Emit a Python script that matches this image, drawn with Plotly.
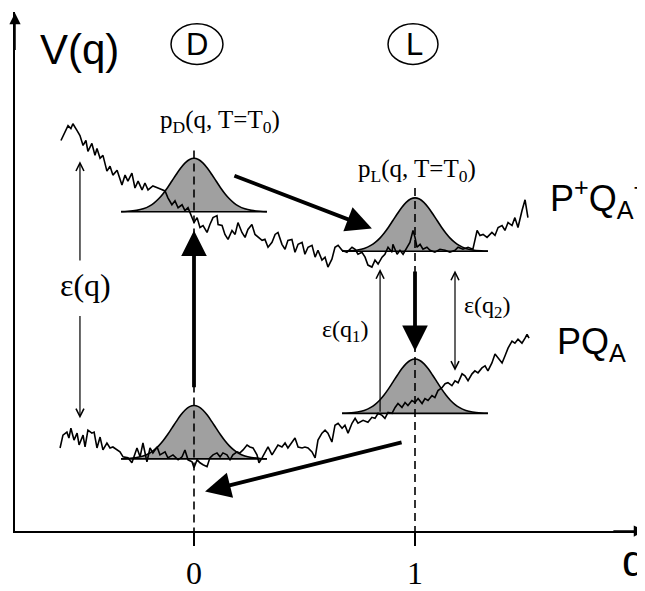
import plotly.graph_objects as go

# ---------------- data (q in reaction-coordinate units, V in arbitrary energy units) ----------------
UPPER_CURVE = [  # P+QA- potential surface (noisy)
    (-0.602, 3.95), (-0.584, 4.04), (-0.570, 4.10), (-0.557, 4.07), (-0.548, 4.12), (-0.529, 4.05),
    (-0.516, 4.00), (-0.502, 3.90), (-0.489, 3.95), (-0.480, 3.84), (-0.462, 3.92), (-0.448, 3.80),
    (-0.439, 3.87), (-0.425, 3.77), (-0.412, 3.80), (-0.394, 3.64), (-0.380, 3.69), (-0.367, 3.60),
    (-0.348, 3.65), (-0.326, 3.50), (-0.312, 3.60), (-0.299, 3.54), (-0.281, 3.62), (-0.267, 3.47),
    (-0.253, 3.54), (-0.235, 3.45), (-0.222, 3.52), (-0.208, 3.45), (-0.186, 3.49), (-0.163, 3.47),
    (-0.131, 3.44), (-0.118, 3.37), (-0.100, 3.30), (-0.086, 3.34), (-0.072, 3.27), (-0.054, 3.30),
    (-0.041, 3.24), (-0.027, 3.27), (-0.009, 3.17), (0.000, 3.12), (0.014, 3.17), (0.027, 3.07),
    (0.041, 3.09), (0.059, 3.02), (0.072, 3.10), (0.086, 3.17), (0.104, 3.19), (0.109, 3.10),
    (0.127, 3.09), (0.140, 3.00), (0.154, 2.95), (0.172, 3.04), (0.186, 3.00), (0.199, 3.12),
    (0.217, 3.02), (0.231, 2.97), (0.244, 3.05), (0.262, 3.10), (0.276, 3.00), (0.290, 2.97),
    (0.308, 2.94), (0.321, 2.95), (0.335, 2.87), (0.353, 2.92), (0.367, 3.00), (0.380, 3.02),
    (0.398, 2.90), (0.412, 2.85), (0.425, 2.94), (0.443, 2.95), (0.457, 2.82), (0.471, 2.90),
    (0.489, 2.92), (0.502, 2.80), (0.516, 2.87), (0.534, 2.89), (0.548, 2.77), (0.561, 2.84),
    (0.579, 2.74), (0.593, 2.77), (0.606, 2.67), (0.624, 2.75), (0.638, 2.87), (0.652, 2.89),
    (0.670, 2.84), (0.692, 2.82), (0.715, 2.87), (0.729, 2.85), (0.742, 2.80), (0.760, 2.82),
    (0.774, 2.77), (0.787, 2.69), (0.805, 2.67), (0.819, 2.74), (0.833, 2.70), (0.851, 2.77),
    (0.864, 2.80), (0.878, 2.87), (0.896, 2.82), (0.900, 2.90), (0.919, 2.80), (0.932, 2.84),
    (0.946, 2.80), (0.964, 2.87), (0.977, 2.92), (0.991, 3.04), (1.000, 2.97), (1.009, 2.87),
    (1.023, 2.90), (1.036, 2.85), (1.054, 2.87), (1.068, 2.84), (1.090, 2.82), (1.113, 2.85),
    (1.136, 2.84), (1.158, 2.82), (1.181, 2.84), (1.195, 2.87), (1.217, 2.85), (1.240, 2.87),
    (1.262, 2.85), (1.271, 2.94), (1.281, 3.04), (1.294, 2.99), (1.308, 3.00), (1.326, 2.97),
    (1.348, 3.02), (1.362, 2.99), (1.376, 3.07), (1.394, 3.09), (1.407, 3.04), (1.421, 3.12),
    (1.439, 3.09), (1.452, 3.17), (1.466, 3.07), (1.484, 3.24), (1.498, 3.35), (1.511, 3.17),
]

LOWER_CURVE = [  # PQA potential surface (noisy)
    (-0.606, 0.84), (-0.593, 0.97), (-0.575, 1.00), (-0.566, 0.94), (-0.557, 1.04), (-0.543, 0.92),
    (-0.529, 0.99), (-0.520, 0.87), (-0.502, 0.97), (-0.493, 0.85), (-0.480, 1.02), (-0.462, 0.99),
    (-0.452, 1.00), (-0.439, 0.84), (-0.425, 0.95), (-0.412, 0.82), (-0.394, 0.89), (-0.380, 0.84),
    (-0.367, 0.85), (-0.348, 0.82), (-0.335, 0.80), (-0.321, 0.75), (-0.299, 0.74), (-0.281, 0.69),
    (-0.267, 0.77), (-0.258, 0.84), (-0.244, 0.75), (-0.231, 0.89), (-0.213, 0.70), (-0.199, 0.84),
    (-0.186, 0.79), (-0.167, 0.85), (-0.154, 0.77), (-0.131, 0.80), (-0.118, 0.74), (-0.095, 0.77),
    (-0.072, 0.72), (-0.054, 0.75), (-0.041, 0.82), (-0.027, 0.72), (-0.009, 0.70), (0.000, 0.64),
    (0.014, 0.72), (0.027, 0.69), (0.041, 0.67), (0.059, 0.65), (0.072, 0.74), (0.086, 0.77),
    (0.104, 0.79), (0.118, 0.75), (0.131, 0.79), (0.149, 0.77), (0.163, 0.72), (0.176, 0.77),
    (0.195, 0.80), (0.208, 0.79), (0.222, 0.82), (0.240, 0.87), (0.253, 0.85), (0.267, 0.84),
    (0.285, 0.77), (0.294, 0.69), (0.308, 0.74), (0.321, 0.80), (0.335, 0.85), (0.353, 0.77),
    (0.367, 0.82), (0.380, 0.87), (0.398, 0.85), (0.412, 0.89), (0.425, 0.84), (0.443, 0.90),
    (0.457, 0.94), (0.471, 0.85), (0.489, 0.84), (0.502, 0.85), (0.516, 0.84), (0.534, 0.80),
    (0.548, 0.74), (0.561, 0.92), (0.579, 0.99), (0.593, 1.02), (0.606, 0.99), (0.624, 0.90),
    (0.638, 1.07), (0.652, 1.09), (0.670, 1.04), (0.683, 1.07), (0.697, 0.99), (0.715, 1.09),
    (0.729, 1.14), (0.742, 1.09), (0.765, 1.12), (0.787, 1.10), (0.805, 1.15), (0.819, 1.14),
    (0.833, 1.19), (0.851, 1.17), (0.864, 1.14), (0.878, 1.20), (0.896, 1.19), (0.910, 1.25),
    (0.923, 1.29), (0.941, 1.25), (0.955, 1.30), (0.968, 1.27), (0.986, 1.32), (1.000, 1.30),
    (1.014, 1.34), (1.032, 1.29), (1.045, 1.34), (1.059, 1.32), (1.077, 1.37), (1.090, 1.35),
    (1.104, 1.42), (1.122, 1.45), (1.136, 1.49), (1.149, 1.50), (1.167, 1.47), (1.181, 1.52),
    (1.195, 1.50), (1.213, 1.59), (1.226, 1.57), (1.240, 1.52), (1.258, 1.59), (1.271, 1.62),
    (1.285, 1.60), (1.303, 1.65), (1.317, 1.67), (1.330, 1.62), (1.348, 1.70), (1.362, 1.79),
    (1.376, 1.75), (1.394, 1.70), (1.407, 1.77), (1.421, 1.85), (1.439, 1.92), (1.452, 1.90),
    (1.466, 1.94), (1.484, 1.90), (1.498, 1.95), (1.507, 1.99), (1.516, 1.95),
]

# population distributions p(q) drawn as bells: shared profile, per-bell centre/baseline/height
BELL_OFFSETS = [-0.33, -0.30, -0.26, -0.23, -0.20, -0.18, -0.16, -0.14, -0.12, -0.10, -0.08, -0.06,
                -0.04, -0.02, 0.00, 0.02, 0.04, 0.06, 0.08, 0.10, 0.12, 0.14, 0.16, 0.18, 0.20,
                0.23, 0.26, 0.30, 0.33]
BELL_PROFILE = [0.002, 0.007, 0.024, 0.053, 0.109, 0.166, 0.242, 0.338, 0.450, 0.575, 0.701, 0.819,
                0.915, 0.978, 1.000, 0.978, 0.915, 0.819, 0.701, 0.575, 0.450, 0.338, 0.242, 0.166,
                0.109, 0.053, 0.024, 0.007, 0.002]
BELL_CENTERS = [0.0, 0.0, 1.0, 1.0]          # D upper, D lower, L upper, L lower
BELL_BASELINES = [3.23, 0.73, 2.83, 1.19]
BELL_HEIGHTS = [0.54, 0.54, 0.54, 0.55]

STATE_Q = [0, 1]
TICK_LABELS = ["0", "1"]
STATE_NAMES = ["D", "L"]
STATE_LABEL_Q = [0.012, 0.998]
STATE_OVAL_Q = [(-0.104, 0.131), (0.878, 1.104)]
STATE_OVAL_V = (4.72, 5.13)
DASH_TOPS = [3.85, 3.47]

# schematic arrows: (q_tail, V_tail, q_head, V_head)
BIG_ARROWS = [
    (0.000, 1.44, 0.000, 3.04),   # excitation at D
    (0.176, 3.60, 0.805, 3.06),   # relaxation D -> L (upper)
    (1.000, 2.64, 1.000, 1.82),   # recombination at L
    (0.946, 0.90, 0.050, 0.40),   # relaxation L -> D (lower)
]
THIN_ARROWS = [  # (q, V_from, V_to, double-headed)
    (-0.516, 2.72, 3.74, False),
    (-0.516, 2.19, 1.14, False),
    (0.842, 1.19, 2.65, False),
    (1.181, 2.65, 1.62, True),
]

X_RANGE = [-0.80995, 2.04072]
Y_RANGE = [0.0, 5.25]

SERIF = "Liberation Serif, Times New Roman, serif"
SANS = "Liberation Sans, Arial, sans-serif"
GRAY = "#a0a0a0"

fig = go.Figure()

# bells
for c, b, h in zip(BELL_CENTERS, BELL_BASELINES, BELL_HEIGHTS):
    fig.add_trace(go.Scatter(
        x=[c + o for o in BELL_OFFSETS], y=[b + h * p for p in BELL_PROFILE],
        mode="lines", fill="toself", fillcolor=GRAY,
        line=dict(color="black", width=1.6, shape="spline"), hoverinfo="skip"))
    fig.add_trace(go.Scatter(
        x=[c + BELL_OFFSETS[0], c + BELL_OFFSETS[-1]], y=[b, b],
        mode="lines", line=dict(color="black", width=1.6), hoverinfo="skip"))

# potential curves
for curve in (UPPER_CURVE, LOWER_CURVE):
    fig.add_trace(go.Scatter(
        x=[p[0] for p in curve], y=[p[1] for p in curve],
        mode="lines", line=dict(color="black", width=1.6), hoverinfo="skip"))

# dashed guide lines at the two states
for q, top in zip(STATE_Q, DASH_TOPS):
    fig.add_trace(go.Scatter(
        x=[q, q], y=[top, 0], mode="lines",
        line=dict(color="black", width=1.6, dash="8px,5px"), hoverinfo="skip"))

annotations = []

# axis arrow heads
annotations.append(dict(x=X_RANGE[1], y=0, ax=X_RANGE[1] - 0.15, ay=0, xref="x", yref="y",
                        axref="x", ayref="y", text="", showarrow=True, arrowhead=2,
                        arrowwidth=1.5, arrowsize=1.5, arrowcolor="black", standoff=0))
annotations.append(dict(x=X_RANGE[0], y=Y_RANGE[1] - 0.01, ax=X_RANGE[0], ay=Y_RANGE[1] - 0.4,
                        xref="x", yref="y", axref="x", ayref="y", text="", showarrow=True,
                        arrowhead=2, arrowwidth=1.5, arrowsize=1.5, arrowcolor="black", standoff=0))

for qt, vt, qh, vh in BIG_ARROWS:
    annotations.append(dict(x=qh, y=vh, ax=qt, ay=vt, xref="x", yref="y", axref="x", ayref="y",
                            text="", showarrow=True, arrowhead=2, arrowwidth=3.8, arrowsize=1.35,
                            arrowcolor="black", standoff=0))

for q, v0, v1, both in THIN_ARROWS:
    a = dict(x=q, y=v1, ax=q, ay=v0, xref="x", yref="y", axref="x", ayref="y", text="",
             showarrow=True, arrowhead=5, arrowwidth=1.2, arrowsize=1.3, arrowcolor="black",
             standoff=0)
    if both:
        a.update(arrowside="end+start", startarrowhead=5, startarrowsize=1.3, startstandoff=0)
    annotations.append(a)

# texts
annotations += [
    dict(x=-0.516, y=4.87, text="V(q)", font=dict(family=SANS, size=42, color="black")),
    dict(x=0.118, y=4.14, text="p<sub>D</sub>(q, T=T<sub>0</sub>)",
         font=dict(family=SERIF, size=25, color="black")),
    dict(x=1.009, y=3.65, text="p<sub>L</sub>(q, T=T<sub>0</sub>)",
         font=dict(family=SERIF, size=25, color="black")),
    dict(x=-0.493, y=2.49, text="ε(q)", font=dict(family=SERIF, size=32, color="black")),
    dict(x=0.683, y=2.02, text="ε(q<sub>1</sub>)", font=dict(family=SERIF, size=24, color="black")),
    dict(x=1.326, y=2.27, text="ε(q<sub>2</sub>)", font=dict(family=SERIF, size=24, color="black")),
    dict(x=1.602, y=3.36, text="P<sup>+</sup>Q<sub>A</sub><sup>−</sup>", xanchor="left",
         font=dict(family=SANS, size=36, color="black")),
    dict(x=1.633, y=1.89, text="PQ<sub>A</sub>", xanchor="left",
         font=dict(family=SANS, size=36, color="black")),
]
for q, name in zip(STATE_LABEL_Q, STATE_NAMES):
    annotations.append(dict(x=q, y=4.92, text=name,
                            font=dict(family=SANS, size=31, color="black")))
for a in annotations:
    if "showarrow" not in a:
        a.update(xref="x", yref="y", showarrow=False)
        a.setdefault("xanchor", "center")
        a.setdefault("yanchor", "middle")

annotations.append(dict(x=0.960, y=-0.057, xref="paper", yref="paper", text="q", showarrow=False,
                        xanchor="left", yanchor="middle",
                        font=dict(family=SANS, size=44, color="black")))

shapes = []
for (q0, q1) in STATE_OVAL_Q:
    shapes.append(dict(type="circle", xref="x", yref="y", x0=q0, x1=q1,
                       y0=STATE_OVAL_V[0], y1=STATE_OVAL_V[1],
                       line=dict(color="black", width=1.5)))

# the page body keeps an 8px default margin, so the figure is sized to fill the rest of the window
fig.update_layout(
    width=637, height=583,
    margin=dict(l=7, r=0, t=4, b=54, pad=0),
    paper_bgcolor="white", plot_bgcolor="white",
    showlegend=False,
    annotations=annotations,
    shapes=shapes,
    xaxis=dict(range=X_RANGE, showgrid=False, zeroline=False, showline=True, linecolor="black",
               linewidth=1.5, ticks="outside", tickvals=STATE_Q, ticktext=TICK_LABELS, ticklen=13,
               tickwidth=1.5, tickcolor="black",
               tickfont=dict(family=SERIF, size=32, color="black")),
    yaxis=dict(range=Y_RANGE, showgrid=False, zeroline=False, showline=True, linecolor="black",
               linewidth=1.5, showticklabels=False, ticks=""),
)

fig.write_html("out.html")
